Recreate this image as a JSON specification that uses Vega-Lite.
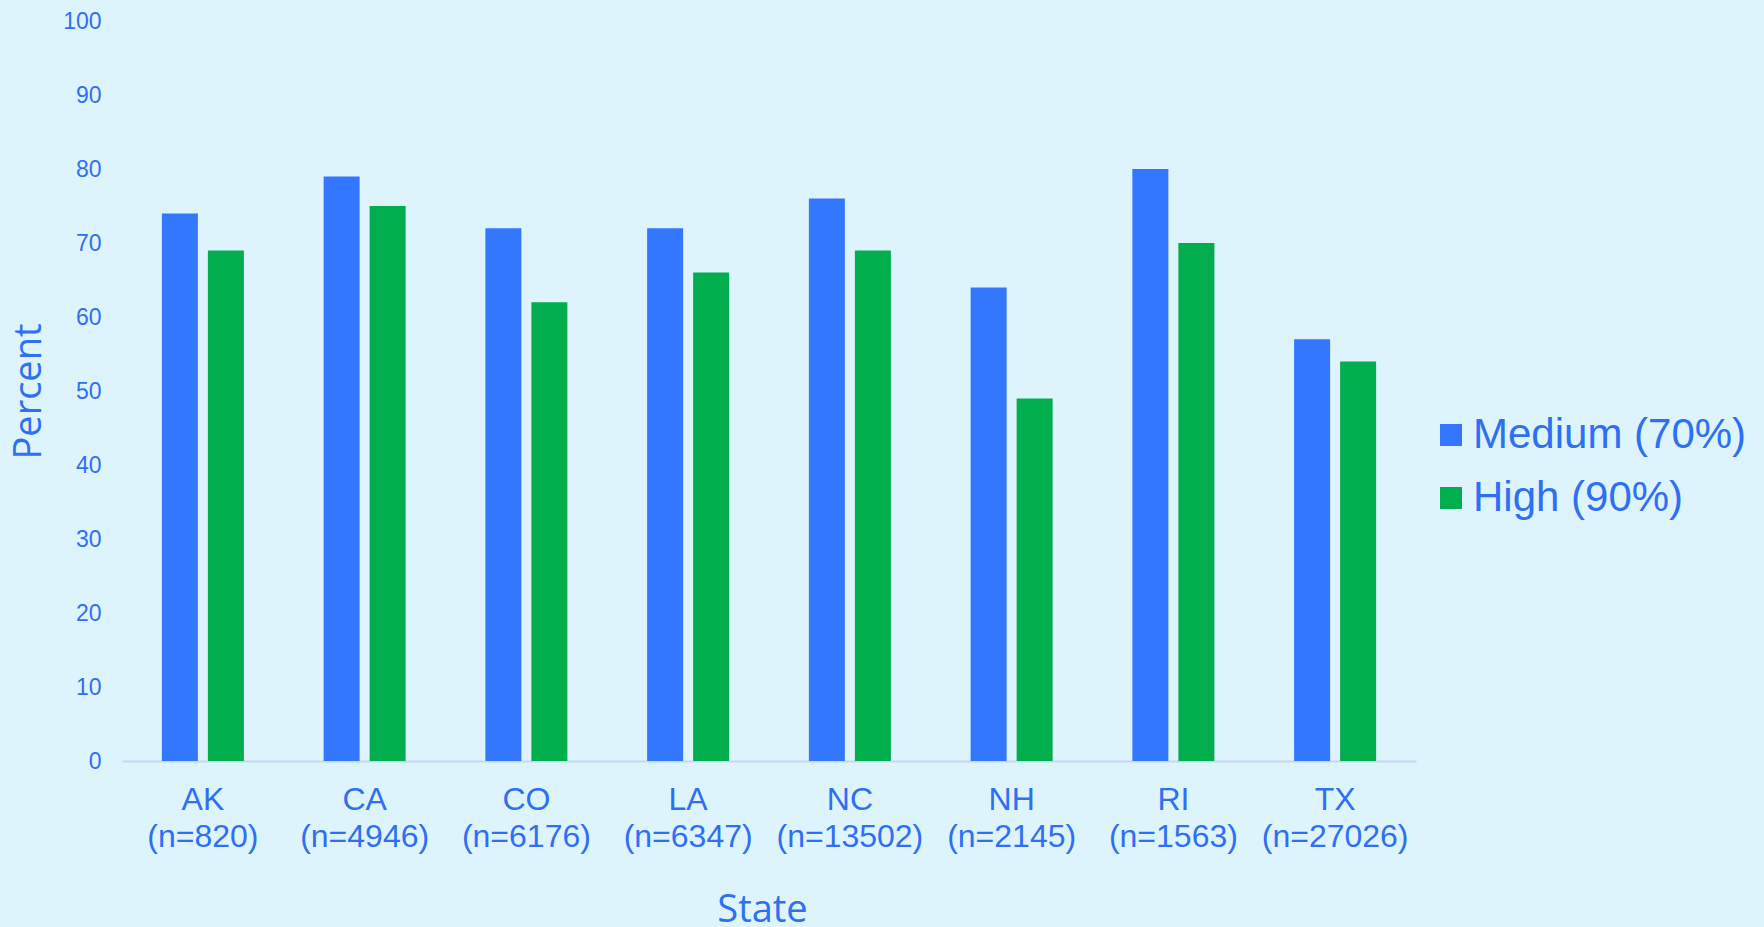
{
  "$schema": "https://vega.github.io/schema/vega-lite/v6.json",
  "autosize": {"type": "none"},
  "padding": {"left": 122, "top": 21, "right": 348, "bottom": 166},
  "width": 1294,
  "height": 740,
  "background": "#DEF4FC",
  "config": {
    "view": {"stroke": null},
    "font": "Liberation Sans"
  },
  "data": {
    "values": [
      {"state": "AK (n=820)", "level": "Medium (70%)", "percent": 74},
      {"state": "AK (n=820)", "level": "High (90%)", "percent": 69},
      {"state": "CA (n=4946)", "level": "Medium (70%)", "percent": 79},
      {"state": "CA (n=4946)", "level": "High (90%)", "percent": 75},
      {"state": "CO (n=6176)", "level": "Medium (70%)", "percent": 72},
      {"state": "CO (n=6176)", "level": "High (90%)", "percent": 62},
      {"state": "LA (n=6347)", "level": "Medium (70%)", "percent": 72},
      {"state": "LA (n=6347)", "level": "High (90%)", "percent": 66},
      {"state": "NC (n=13502)", "level": "Medium (70%)", "percent": 76},
      {"state": "NC (n=13502)", "level": "High (90%)", "percent": 69},
      {"state": "NH (n=2145)", "level": "Medium (70%)", "percent": 64},
      {"state": "NH (n=2145)", "level": "High (90%)", "percent": 49},
      {"state": "RI (n=1563)", "level": "Medium (70%)", "percent": 80},
      {"state": "RI (n=1563)", "level": "High (90%)", "percent": 70},
      {"state": "TX (n=27026)", "level": "Medium (70%)", "percent": 57},
      {"state": "TX (n=27026)", "level": "High (90%)", "percent": 54}
    ]
  },
  "mark": {"type": "bar"},
  "encoding": {
    "x": {
      "field": "state",
      "type": "nominal",
      "sort": null,
      "scale": {"paddingInner": 0.493, "paddingOuter": 0.2465},
      "axis": {
        "title": "State",
        "titleFont": "Open Sans",
        "titleFontSize": 38,
        "titleFontWeight": "normal",
        "titleColor": "#2F6FF3",
        "titleBaseline": "alphabetic",
        "titleY": 160,
        "titleX": 640,
        "labelExpr": "split(datum.value, ' ')",
        "labelAngle": 0,
        "labelFontSize": 32,
        "labelLineHeight": 37,
        "labelColor": "#2F6FF3",
        "labelPadding": 23,
        "ticks": false,
        "domainColor": "#C6D6F6",
        "domainWidth": 2,
        "grid": false
      }
    },
    "xOffset": {
      "field": "level",
      "type": "nominal",
      "sort": ["Medium (70%)", "High (90%)"],
      "scale": {"paddingInner": 0.2174, "paddingOuter": 0}
    },
    "y": {
      "field": "percent",
      "type": "quantitative",
      "scale": {"domain": [0, 100], "nice": false},
      "axis": {
        "title": "Percent",
        "titleFont": "Open Sans",
        "titleFontSize": 38,
        "titleFontWeight": "normal",
        "titleColor": "#2F6FF3",
        "titleAngle": -90,
        "titleAlign": "center",
        "titleBaseline": "middle",
        "titleX": -93,
        "titleY": 370,
        "values": [0, 10, 20, 30, 40, 50, 60, 70, 80, 90, 100],
        "labelFontSize": 23,
        "labelColor": "#2F6FF3",
        "labelPadding": 21,
        "ticks": false,
        "domain": false,
        "grid": false
      }
    },
    "color": {
      "field": "level",
      "type": "nominal",
      "sort": ["Medium (70%)", "High (90%)"],
      "scale": {"domain": ["Medium (70%)", "High (90%)"], "range": ["#3377FF", "#00AE4E"]},
      "legend": {
        "title": null,
        "orient": "none",
        "legendX": 1308,
        "legendY": 393,
        "symbolType": "square",
        "symbolSize": 484,
        "symbolStrokeWidth": 0,
        "labelFontSize": 42,
        "labelLimit": 500,
        "labelColor": "#2F6FF3",
        "labelOffset": 1,
        "rowPadding": 21,
        "padding": 0
      }
    }
  }
}
